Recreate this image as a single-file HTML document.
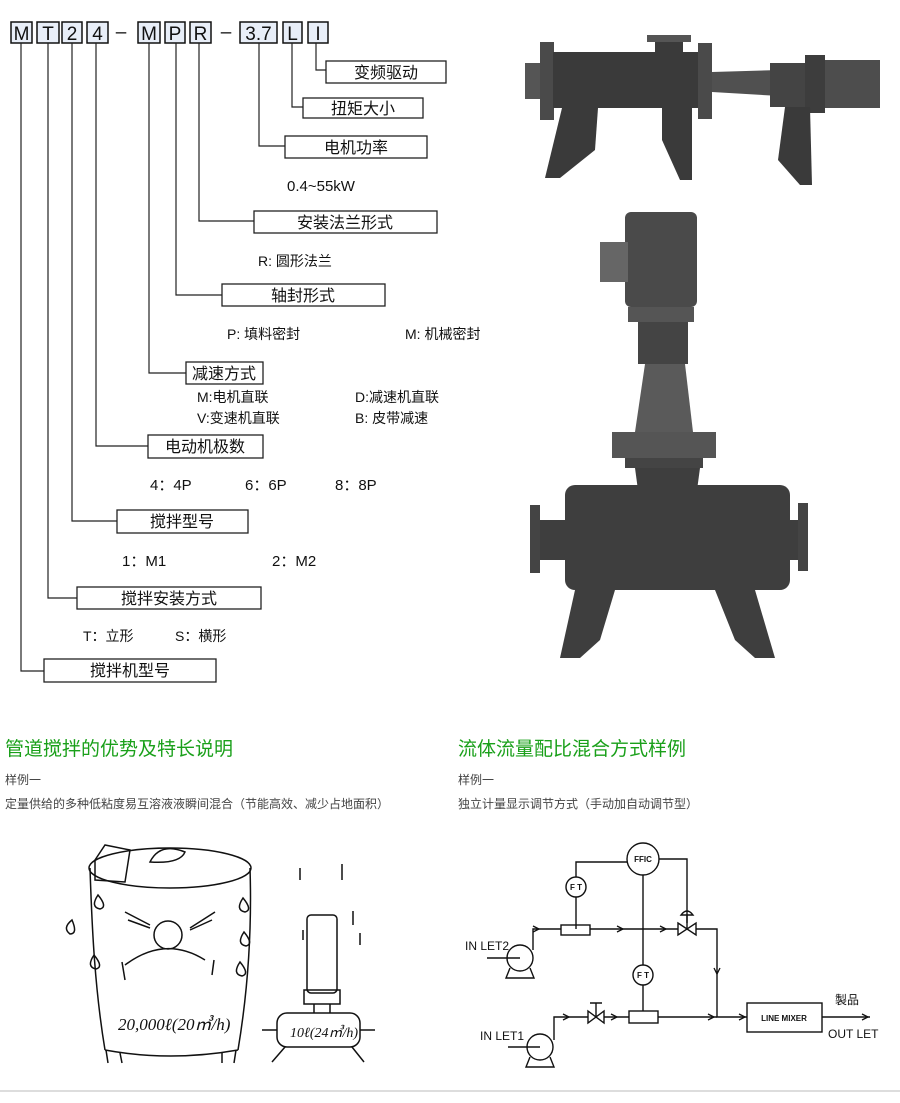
<!DOCTYPE html>
<html><head><meta charset="utf-8"><style>
html,body{margin:0;padding:0;background:#fff;}
body{width:900px;height:1103px;position:relative;overflow:hidden;font-family:"Liberation Sans","Noto Sans CJK SC",sans-serif;}
svg{position:absolute;left:0;top:0;}
</style></head><body>
<svg width="900" height="1103" viewBox="0 0 900 1103" font-family="Liberation Sans, Noto Sans CJK SC, sans-serif">
<!-- code boxes -->
<g fill="#e8eef8" stroke="#111" stroke-width="1.5">
<rect x="11" y="22" width="21" height="21"/><rect x="37" y="22" width="22" height="21"/><rect x="62" y="22" width="20" height="21"/><rect x="87" y="22" width="21" height="21"/>
<rect x="138" y="22" width="22" height="21"/><rect x="165" y="22" width="20" height="21"/><rect x="190" y="22" width="21" height="21"/>
<rect x="240" y="22" width="37" height="21"/><rect x="283" y="22" width="19" height="21"/><rect x="308" y="22" width="20" height="21"/>
</g>
<g font-size="19" fill="#111" text-anchor="middle">
<text x="21.5" y="40">M</text><text x="48" y="40">T</text><text x="72" y="40">2</text><text x="97.5" y="40">4</text>
<text x="149" y="40">M</text><text x="175" y="40">P</text><text x="200.5" y="40">R</text>
<text x="258.5" y="40">3.7</text><text x="292.5" y="40">L</text><text x="318" y="40">I</text>
<text x="121" y="38">–</text><text x="226" y="38">–</text>
</g>
<!-- leader lines -->
<g fill="none" stroke="#222" stroke-width="1.2">
<path d="M21 43V671H44"/><path d="M48 43V598H77"/><path d="M72 43V521H117"/><path d="M96 43V446H148"/>
<path d="M149 43V373H186"/><path d="M176 43V295H222"/><path d="M199 43V221H254"/>
<path d="M259 43V146H285"/><path d="M292 43V107H303"/><path d="M316 43V70H326"/>
</g>
<!-- label boxes -->
<g fill="#fff" stroke="#222" stroke-width="1.3">
<rect x="326" y="61" width="120" height="22"/><rect x="303" y="98" width="120" height="20"/><rect x="285" y="136" width="142" height="22"/>
<rect x="254" y="211" width="183" height="22"/><rect x="222" y="284" width="163" height="22"/><rect x="186" y="362" width="77" height="22"/>
<rect x="148" y="435" width="115" height="23"/><rect x="117" y="510" width="131" height="23"/><rect x="77" y="587" width="184" height="22"/><rect x="44" y="659" width="172" height="23"/>
</g>
<g font-size="16" fill="#111" text-anchor="middle">
<text x="386" y="78">变频驱动</text><text x="363" y="114">扭矩大小</text><text x="356" y="153">电机功率</text>
<text x="345" y="228">安装法兰形式</text><text x="303" y="301">轴封形式</text><text x="224" y="379">减速方式</text>
<text x="205" y="452">电动机极数</text><text x="182" y="527">搅拌型号</text><text x="169" y="604">搅拌安装方式</text><text x="130" y="676">搅拌机型号</text>
</g>
<g font-size="15" fill="#111">
<text x="287" y="191">0.4~55kW</text>
<text x="258" y="266" font-size="14">R: 圆形法兰</text>
<text x="227" y="339" font-size="14">P:   填料密封</text><text x="405" y="339" font-size="14">M:  机械密封</text>
<text x="197" y="402" font-size="14">M:电机直联</text><text x="355" y="402" font-size="14">D:减速机直联</text>
<text x="197" y="423" font-size="14">V:变速机直联</text><text x="355" y="423" font-size="14">B: 皮带减速</text>
<text x="150" y="490">4：4P</text><text x="245" y="490">6：6P</text><text x="335" y="490">8：8P</text>
<text x="122" y="566">1：M1</text><text x="272" y="566">2：M2</text>
<text x="83" y="641" font-size="14">T：立形</text><text x="175" y="641" font-size="14">S：横形</text>
</g>
<!-- top horizontal unit photo -->
<g fill="#3a3a3a">
<rect x="525" y="63" width="16" height="36" fill="#555"/>
<rect x="540" y="42" width="14" height="78" fill="#4a4a4a"/>
<rect x="553" y="52" width="145" height="56"/>
<rect x="698" y="43" width="14" height="76" fill="#4a4a4a"/>
<rect x="655" y="40" width="28" height="24"/><rect x="647" y="35" width="44" height="7" fill="#555"/>
<path d="M712 72L780 70L780 96L712 92Z" fill="#505050"/>
<rect x="770" y="63" width="35" height="44" fill="#444"/>
<rect x="805" y="55" width="20" height="58" fill="#3d3d3d"/>
<rect x="825" y="60" width="55" height="48" fill="#4d4d4d"/>
<path d="M562 108H598L595 150L560 178H545Z"/><path d="M662 108H692V180H680L662 140Z"/>
<path d="M785 107H810L812 185H800L778 160Z"/>
</g>
<!-- vertical unit photo -->
<g fill="#3e3e3e">
<rect x="625" y="212" width="72" height="95" fill="#4a4a4a" rx="6"/>
<rect x="600" y="242" width="28" height="40" fill="#666"/>
<rect x="628" y="307" width="66" height="15" fill="#555"/>
<rect x="638" y="322" width="50" height="42" fill="#444"/>
<path d="M645 364H685L693 432H635Z" fill="#5a5a5a"/>
<rect x="612" y="432" width="104" height="26" fill="#555"/>
<rect x="625" y="458" width="78" height="10" fill="#444"/>
<path d="M635 468H700L695 505H640Z"/>
<rect x="565" y="485" width="225" height="105" rx="10"/>
<rect x="530" y="505" width="10" height="68" fill="#444"/><rect x="540" y="520" width="28" height="40"/>
<rect x="790" y="520" width="15" height="40"/><rect x="798" y="503" width="10" height="68" fill="#444"/>
<path d="M575 590H615L600 640L580 658H560Z"/><path d="M715 590H755L775 658H755L735 640Z"/>
</g>
<!-- headings -->
<text x="5" y="755" font-size="19" fill="#1aa01a">管道搅拌的优势及特长说明</text>
<text x="458" y="755" font-size="19" fill="#1aa01a">流体流量配比混合方式样例</text>
<g font-size="12" fill="#444">
<text x="5" y="784">样例一</text><text x="5" y="808">定量供给的多种低粘度易互溶液液瞬间混合（节能高效、减少占地面积）</text>
<text x="458" y="784">样例一</text><text x="458" y="808">独立计量显示调节方式（手动加自动调节型）</text>
</g>
<!-- cartoon -->
<g fill="none" stroke="#111" stroke-width="1.5">
<ellipse cx="170" cy="868" rx="81" ry="20"/>
<path d="M90 868C92 930 95 990 105 1050M250 868C252 930 248 990 238 1050"/>
<path d="M105 1050Q170 1062 238 1050"/>
<path d="M106 1050L108 1063M120 1053L122 1063M222 1053L222 1063M236 1050L234 1063"/>
<circle cx="168" cy="935" r="14"/>
<path d="M125 965Q165 935 205 960M122 962L125 980M214 960L212 975"/>
<path d="M125 912L150 925M128 920L150 928M190 928L215 912M190 930L212 920"/>
<path d="M98 895q-8 12 2 14q8-2-2-14z M72 920q-10 8-2 14q8 0 2-14z M243 898q-8 12 2 14q8-2-2-14z M244 932q-8 12 2 14q8-2-2-14z M94 955q-8 12 2 14q8-2-2-14z M240 962q-8 12 2 14q8-2-2-14z"/>
<path d="M95 860L105 845L130 850L125 882L95 880Z M150 862q10-20 35-10q-5 12-35 10z"/>
<rect x="307" y="915" width="30" height="78" rx="4"/>
<rect x="304" y="990" width="36" height="14"/>
<path d="M314 1004V1013M330 1004V1013"/>
<rect x="277" y="1013" width="83" height="34" rx="10"/>
<path d="M262 1030H277M360 1030H375M285 1047L272 1062M352 1047L364 1062"/>
<path d="M300 880v-12M342 880v-16M353 925v-14M303 940v-10M360 945v-12"/>
</g>
<g font-size="17" fill="#111" font-family="Liberation Serif, serif" font-style="italic">
<text x="118" y="1030">20,000ℓ(20㎥/h)</text>
<text x="290" y="1037" font-size="14">10ℓ(24㎥/h)</text>
</g>
<!-- flow diagram -->
<g fill="none" stroke="#111" stroke-width="1.4">
<path d="M533 950V929H561M590 929H678M696 929H717V1017H747"/>
<rect x="561" y="925" width="29" height="10" fill="#fff"/>
<path d="M554 1040V1017H588M604 1017H629M658 1017H717"/>
<rect x="629" y="1011" width="29" height="12"/>
<path d="M822 1017H870"/>
<rect x="747" y="1003" width="75" height="29"/>
<path d="M678 923L696 935V923L678 935Z M687 929V915M681 915Q687 907 693 915Z"/>
<path d="M588 1011L604 1023V1011L588 1023Z M596 1017V1003M590 1003H602"/>
<circle cx="520" cy="958" r="13"/><path d="M487 958H520M510 968L506 978H534L530 968"/>
<circle cx="540" cy="1047" r="13"/><path d="M508 1047H540M530 1057L526 1067H554L550 1057"/>
<path d="M576 929V897M643 875V965M643 985V1011M576 877V862H627M659 859H687V923"/>
</g>
<g fill="none" stroke="#111" stroke-width="1.3">
<path d="M533 926l6 3l-6 3M617 926l6 3l-6 3M660 926l6 3l-6 3M563 1014l6 3l-6 3M611 1014l6 3l-6 3M708 1014l6 3l-6 3M739 1014l6 3l-6 3M862 1014l6 3l-6 3M714 968l3 6l3-6"/>
</g>
<circle cx="643" cy="859" r="16" fill="#fff" stroke="#111" stroke-width="1.4"/>
<circle cx="576" cy="887" r="10" fill="#fff" stroke="#111" stroke-width="1.4"/>
<circle cx="643" cy="975" r="10" fill="#fff" stroke="#111" stroke-width="1.4"/>
<g font-size="8" fill="#111" text-anchor="middle" font-weight="bold">
<text x="643" y="862">FFIC</text><text x="576" y="890">F T</text><text x="643" y="978">F T</text>
<text x="784" y="1021">LINE MIXER</text>
</g>
<g font-size="12" fill="#111">
<text x="465" y="950">IN LET2</text><text x="480" y="1040">IN LET1</text>
<text x="835" y="1004">製品</text><text x="828" y="1038">OUT LET</text>
</g>
<line x1="0" y1="1091" x2="900" y2="1091" stroke="#ddd" stroke-width="2"/>
</svg>
</body></html>
